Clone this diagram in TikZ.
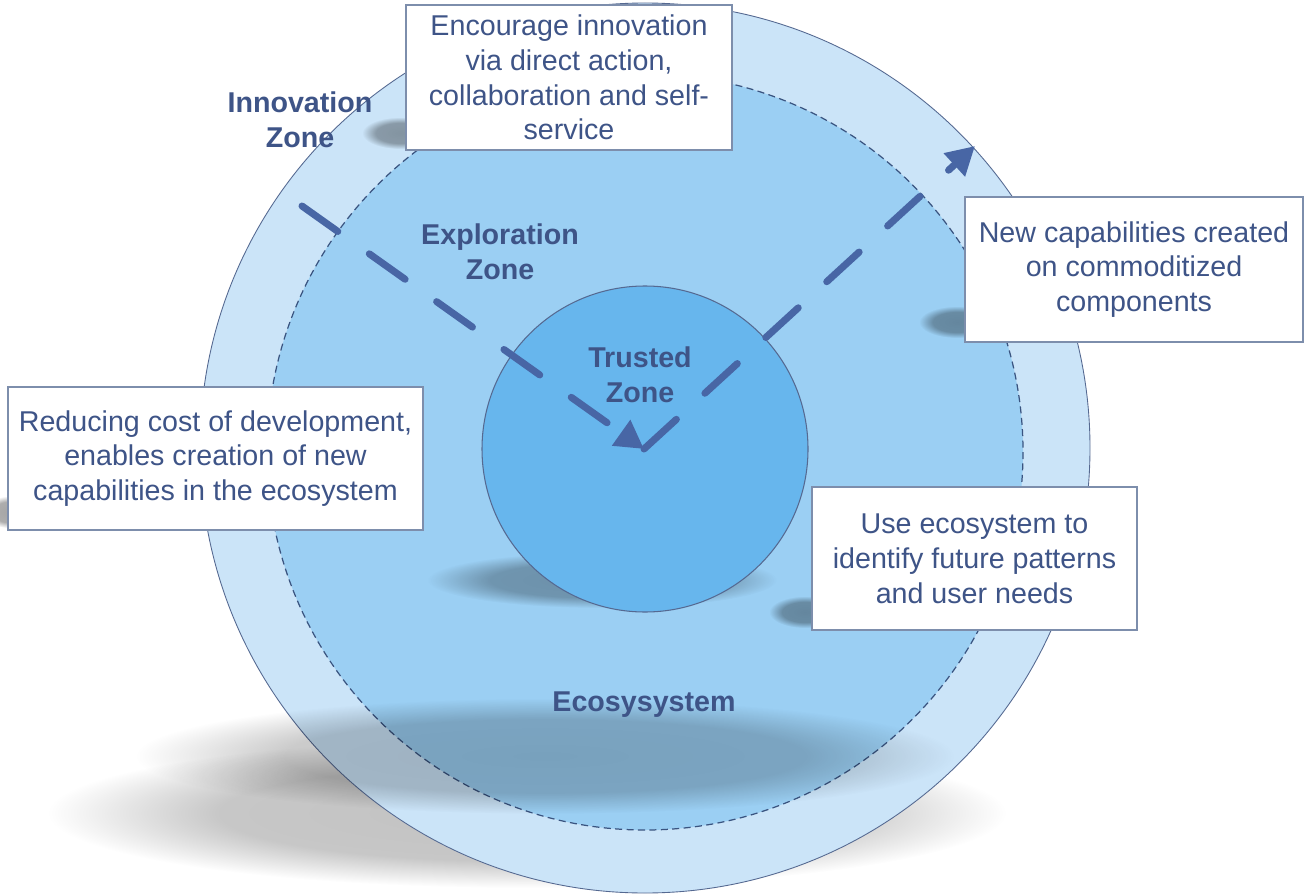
\documentclass[tikz,border=0pt]{standalone}
\usepackage{fontspec}
\setmainfont{Liberation Sans}
\usepackage{tikz}
\usetikzlibrary{arrows.meta,fadings}
\usepackage{xcolor}
\definecolor{ring-outer}{RGB}{203,228,248}
\definecolor{ring-mid}{RGB}{155,207,243}
\definecolor{ring-core}{RGB}{103,182,237}
\definecolor{label-blue}{RGB}{62,84,135}
\definecolor{flow-blue}{RGB}{72,102,165}
\definecolor{edge-blue}{RGB}{85,105,145}
\definecolor{dash-blue}{RGB}{58,84,128}
\definecolor{box-edge}{RGB}{125,142,172}
\pgfdeclareradialshading{softshade}{\pgfpointorigin}{color(0pt)=(pgftransparent!0); color(16pt)=(pgftransparent!8); color(25pt)=(pgftransparent!100); color(50pt)=(pgftransparent!100)}
\pgfdeclarefading{soft edge}{\pgfuseshading{softshade}}
\tikzstyle{zonelabel}=[text=label-blue, font=\fontsize{16.3}{19.8}\selectfont\bfseries, align=center]
\tikzstyle{infobox}=[draw=box-edge, fill=white, text=label-blue, font=\fontsize{16.3}{19.8}\selectfont, align=center, inner sep=0pt, line width=0.8pt]
\tikzstyle{flowline}=[flow-blue, line width=4pt, line cap=round, dash pattern=on 25pt off 22pt, -{Triangle[length=16pt,width=17pt]}]
\tikzstyle{softshadow}=[fill=black, path fading=soft edge]

\begin{document}
\begin{tikzpicture}[x=0.02cm, y=-0.02cm]
	\path[use as bounding box, clip] (0,0) rectangle (1304,895);
	\fill[softshadow, opacity=0.24] (527,813) ellipse (480 and 75);
	\filldraw[fill=ring-outer, draw=edge-blue, line width=0.5pt] (645,448) circle (445);
	\filldraw[fill=ring-mid, draw=dash-blue, line width=0.7pt, dash pattern=on 4pt off 2.5pt] (645,452) circle (378);
	\fill[softshadow, opacity=0.22] (545,756) ellipse (410 and 58);
	\fill[softshadow, opacity=0.3] (602,580) ellipse (175 and 28);
	\filldraw[fill=ring-core, draw=edge-blue, line width=0.6pt] (645,449) circle (163);
	\node[zonelabel] (innovation) at (300,120) {Innovation\\Zone};
	\node[zonelabel] (exploration) at (500,252) {Exploration\\Zone};
	\node[zonelabel] (trusted) at (640,375) {Trusted\\Zone};
	\node[zonelabel] (ecosystem) at (644,705) {Ecosysystem};
	\coordinate (entry) at (302,206);
	\coordinate (core) at (644,449);
	\coordinate (exit) at (975,146);
	\draw[flowline] (entry) -- (core);
	\draw[flowline] (core) -- (exit);
	\fill[softshadow, opacity=0.35] (400,133) ellipse (38 and 16);
	\fill[softshadow, opacity=0.35] (957,322) ellipse (38 and 16);
	\fill[softshadow, opacity=0.35] (805,612) ellipse (36 and 16);
	\fill[softshadow, opacity=0.35] (8,512) ellipse (22 and 16);
	\node[infobox, minimum width=6.52cm, minimum height=2.9cm] (encourage) at (569,77.5) {Encourage innovation\\via direct action,\\collaboration and self-\\service};
	\node[infobox, minimum width=6.76cm, minimum height=2.9cm] (capabilities) at (1134,269.5) {New capabilities created\\on commoditized\\components};
	\node[infobox, minimum width=8.3cm, minimum height=2.86cm] (reducing) at (215.5,458.5) {Reducing cost of development,\\enables creation of new\\capabilities in the ecosystem};
	\node[infobox, minimum width=6.5cm, minimum height=2.86cm] (patterns) at (974.5,558.5) {Use ecosystem to\\identify future patterns\\and user needs};
\end{tikzpicture}
\end{document}
